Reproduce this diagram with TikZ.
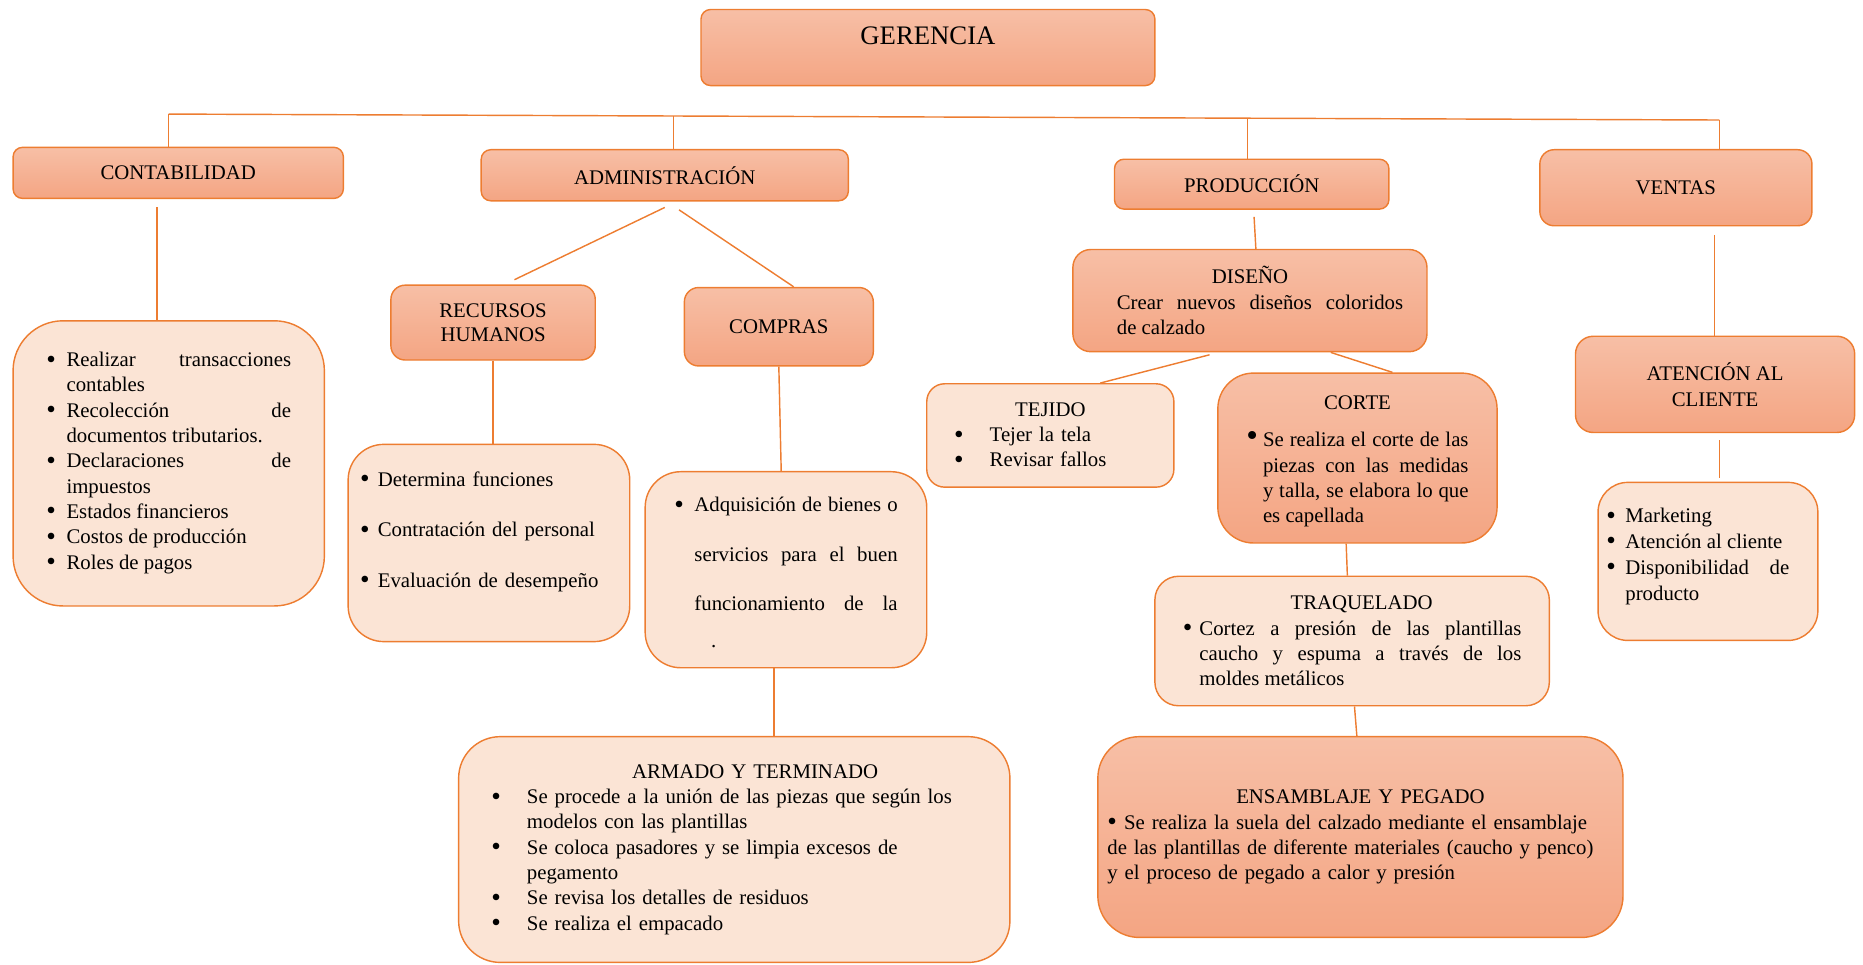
\documentclass[tikz,border=0pt]{standalone}
\usepackage{fontspec}
\setmainfont{Liberation Serif}
\usetikzlibrary{calc}

\definecolor{edge}{HTML}{ED7D31}
\definecolor{shadeTop}{HTML}{F7BFA6}
\definecolor{shadeBot}{HTML}{F4A583}
\definecolor{pale}{HTML}{FBE4D5}

% list bullet, a little heavier than the text bullet
\newcommand\bdot{\raisebox{-1.2pt}{\fontsize{23}{0}\selectfont\textbullet}}
% bulleted paragraph with hanging indent
\newcommand\dotitem[2][15pt]{\par\hangindent=#1\hangafter=1\noindent\hbox to #1{\bdot\hfil}#2\par}

\tikzset{
  txt/.style={inner sep=0pt, font=\fontsize{17.5}{21.3}\selectfont},
  base/.style={txt, draw=edge, line width=1.2pt},
  head/.style={base, top color=shadeTop, bottom color=shadeBot, rounded corners=#1},
  head/.default=8pt,
  soft/.style={base, fill=pale, rounded corners=#1},
  soft/.default=30pt,
  link/.style={draw=edge, line width=1.2pt}
}

\begin{document}
\begin{tikzpicture}[x=1pt, y=-1pt]
\useasboundingbox (0,0) rectangle (1568,812);

% top level
\node[head, minimum width=382pt, minimum height=64pt, text depth=20pt,
      font=\fontsize{22.5}{27}\selectfont] (ger) at (781,40) {GERENCIA};

\node[head, minimum width=278pt, minimum height=43pt] (cont) at (150,145.5) {CONTABILIDAD};
\node[head, minimum width=309pt, minimum height=43pt] (adm) at (559.5,147.5) {ADMINISTRACIÓN};
\node[head, minimum width=231pt, minimum height=42pt] (prod) at (1053.5,155) {PRODUCCIÓN};
\node[head=12pt, minimum width=229pt, minimum height=64pt] (vent) at (1410.5,158) {VENTAS};

% contabilidad
\node[soft=42pt, minimum width=262pt, minimum height=240pt, text width=206pt, align=justify]
  (contL) at (142,390) {%
  \dotitem[17pt]{Realizar transacciones\linebreak contables}%
  \dotitem[17pt]{Recolección de\linebreak documentos tributarios.}%
  \dotitem[17pt]{Declaraciones de\linebreak impuestos}%
  \dotitem[17pt]{Estados financieros}%
  \dotitem[17pt]{Costos de producción}%
  \dotitem[17pt]{Roles de pagos}\kern10pt};

% administracion
\node[head=12pt, minimum width=172pt, minimum height=63pt, align=center,
      font=\fontsize{17.5}{20}\selectfont] (rh) at (415,271.5) {RECURSOS\\HUMANOS};
\node[head=12pt, minimum width=159pt, minimum height=66pt] (comp) at (655.5,275) {COMPRAS};

\node[soft=30pt, minimum width=237pt, minimum height=166pt] (rhL) at (411.5,457) {};
\node[txt, text width=217pt, align=left, font=\fontsize{17.5}{42.5}\selectfont]
  (rhT) at (rhL.center) {%
  \dotitem{Determina funciones}%
  \dotitem{Contratación del personal}%
  \dotitem{Evaluación de desempeño}\kern49pt};

\node[soft=30pt, minimum width=237pt, minimum height=165pt] (compL) at (661.5,479.5) {};
\node[txt, text width=188pt, align=justify, font=\fontsize{17.5}{41.5}\selectfont]
  (compT) at (compL.center) {%
  \dotitem[17pt]{Adquisición de bienes o\linebreak servicios para el buen\linebreak
  funcionamiento de la\vadjust{\kern-10pt}\linebreak\hspace*{14pt}.}\kern24pt};

\node[soft=35pt, minimum width=464pt, minimum height=190pt, text width=409pt, align=left]
  (arm) at (618,715) {%
  {\centering\noindent\hspace*{35pt}ARMADO Y TERMINADO\par}%
  \dotitem[30pt]{Se procede a la unión de las piezas que según los\newline modelos con las plantillas}%
  \dotitem[30pt]{Se coloca pasadores y se limpia excesos de\newline pegamento}%
  \dotitem[30pt]{Se revisa los detalles de residuos}%
  \dotitem[30pt]{Se realiza el empacado}};

% produccion
\node[head=15pt, minimum width=298pt, minimum height=86pt, text width=258pt, align=justify]
  (dis) at (1052,253) {%
  {\centering\noindent DISEÑO\par}%
  {\leftskip=17pt\noindent Crear nuevos diseños coloridos\linebreak de calzado\par}};

\node[soft=15pt, minimum width=208pt, minimum height=87pt, text width=162pt, align=left]
  (tej) at (884,366.5) {%
  {\centering\noindent TEJIDO\par}%
  \dotitem[30pt]{Tejer la tela}%
  \dotitem[30pt]{Revisar fallos}};

\node[head=30pt, minimum width=235pt, minimum height=143pt, text width=187pt, align=justify]
  (cor) at (1142.5,385.5) {%
  {\centering\noindent CORTE\par}\kern10pt
  \hangindent=14pt\hangafter=1\noindent\hbox to 14pt{\fontsize{28}{0}\selectfont\textbullet\hfil}%
  Se realiza el corte de las\linebreak piezas con las medidas\linebreak
  y talla, se elabora lo que\linebreak es capellada\par\kern-6pt};

\node[soft=20pt, minimum width=332pt, minimum height=109pt, text width=285pt, align=justify]
  (traq) at (1138,539.5) {%
  {\centering\noindent\hspace*{16pt}TRAQUELADO\par}%
  \dotitem[14pt]{Cortez a presión de las plantillas\linebreak caucho y espuma a través de los\linebreak moldes metálicos}};

\node[head=35pt, minimum width=442pt, minimum height=169pt, text width=426pt, align=left]
  (ens) at (1145,704.5) {%
  {\centering\noindent ENSAMBLAJE Y PEGADO\par}%
  \noindent\bdot\hspace{6pt}Se realiza la suela del calzado mediante el ensamblaje\newline
  de las plantillas de diferente materiales (caucho y penco)\newline
  y el proceso de pegado a calor y presión\par};

% ventas
\node[head=15pt, minimum width=235pt, minimum height=81pt, align=center,
      font=\fontsize{17.5}{22}\selectfont] (aten) at (1443.5,323.5) {ATENCIÓN AL\\CLIENTE};

\node[soft=25pt, minimum width=185pt, minimum height=133pt, text width=171pt, align=justify,
      font=\fontsize{17.5}{21.7}\selectfont] (mkt) at (1437.5,472.5) {%
  \rightskip=17pt
  \dotitem[16pt]{Marketing}%
  \dotitem[16pt]{Atención al cliente}%
  \dotitem[16pt]{Disponibilidad de\linebreak producto}\kern18pt};

% bus under the top box
\coordinate (busL) at (142,96);
\coordinate (busR) at (1447,101);
\coordinate (busA) at ($(busL)!0.3257!(busR)$);
\coordinate (busP) at ($(busL)!0.6958!(busR)$);
\draw[link] (busL) -- (busR);
\draw[link] (busL) -- (busL |- cont.north);
\draw[link] (busA) -- (busA |- adm.north);
\draw[link] (busP) -- (busP |- prod.north);
\draw[link] (busR) -- (busR |- vent.north);

% branches
\draw[link] ([xshift=-18pt,yshift=-7pt]cont.south) -- ([xshift=-10pt]contL.north);
\draw[link] ([yshift=-5pt]adm.south) -- ([xshift=18pt,yshift=4pt]rh.north);
\draw[link] ([xshift=12pt,yshift=-7pt]adm.south) -- ([xshift=12.5pt]comp.north);
\draw[link] (rh.south) -- (rh.south |- rhL.north);
\draw[link] (comp.south) -- ([xshift=-4pt]compL.north);
\draw[link] ([xshift=-10pt]compL.south) -- ([xshift=-10pt]compL.south |- arm.north);
\draw[link] ([xshift=2pt,yshift=-6pt]prod.south) -- ([xshift=5pt]dis.north);
\draw[link] ([xshift=-34pt,yshift=-2pt]dis.south) -- ([xshift=42pt]tej.north);
\draw[link] ([xshift=68pt]dis.south) -- ([xshift=29.5pt]cor.north);
\draw[link] ([xshift=-9.5pt]cor.south) -- ([xshift=-4pt]traq.north);
\draw[link] ([xshift=2pt]traq.south) -- ([xshift=-3pt]ens.north);
\draw[link] ([xshift=32.5pt,yshift=-7pt]vent.south) -- ([xshift=-0.5pt]aten.north);
\draw[link] ([xshift=3.5pt,yshift=-6pt]aten.south) -- ([xshift=9.5pt,yshift=3pt]mkt.north);
\end{tikzpicture}
\end{document}
